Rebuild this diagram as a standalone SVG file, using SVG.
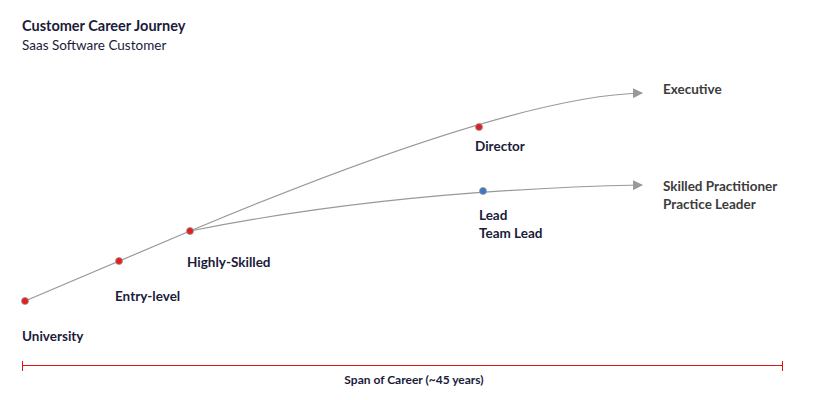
<svg xmlns="http://www.w3.org/2000/svg" width="815" height="400" viewBox="0 0 815 400">
<defs>
<style>
.t{font-family:Lato,"Open Sans","Liberation Sans",sans-serif;fill:#1b1b3a}
.lbl{font-size:13.5px;font-weight:bold}
.gray{fill:#3c3c3c}
.conn{fill:none;stroke:#999;stroke-width:1.2}
.dot{stroke:#999;stroke-width:0.8}
.red{fill:#e02020}
.blue{fill:#3a78c0}
</style>
<marker id="arr" viewBox="0 0 10 10" refX="9" refY="5" markerWidth="10" markerHeight="10" markerUnits="userSpaceOnUse" orient="auto">
<path d="M0,0 L10,5 L0,10 z" fill="#999"/>
</marker>
</defs>
<rect width="815" height="400" fill="#fff"/>
<text class="t" x="22" y="31" font-size="14.5" font-weight="bold">Customer Career Journey</text>
<text class="t" x="22" y="50" font-size="13.5">Saas Software Customer</text>
<g id="connectors">
<path class="conn" d="M25,301 L190,231"/>
<path class="conn" d="M190,231 Q512,96 642,93" marker-end="url(#arr)"/>
<path class="conn" d="M190,231 Q395,190 642,185" marker-end="url(#arr)"/>
</g>
<g id="university"><circle class="dot red" cx="25" cy="301" r="3.5"/><text class="t lbl" x="22" y="341">University</text></g>
<g id="entry"><circle class="dot red" cx="119" cy="261" r="3.5"/><text class="t lbl" x="115" y="301">Entry-level</text></g>
<g id="highly"><circle class="dot red" cx="190" cy="231" r="3.5"/><text class="t lbl" x="187" y="267">Highly-Skilled</text></g>
<g id="director"><circle class="dot red" cx="479" cy="127" r="3.5"/><text class="t lbl" x="475" y="151">Director</text></g>
<g id="lead"><circle class="dot blue" cx="483" cy="191" r="3.5"/><text class="t lbl" x="479" y="220">Lead</text><text class="t lbl" x="479" y="238">Team Lead</text></g>
<g id="executive"><text class="t lbl gray" x="663" y="94">Executive</text></g>
<g id="practitioner"><text class="t lbl gray" x="663" y="191">Skilled Practitioner</text><text class="t lbl gray" x="663" y="209">Practice Leader</text></g>
<g id="span">
<path d="M22.5,365.5 H783 M22.5,361 V371 M782.5,361 V371" stroke="#e01515" stroke-width="1" fill="none"/>
<text class="t" x="414" y="384" font-size="12" font-weight="bold" text-anchor="middle">Span of Career (~45 years)</text>
</g>
</svg>
